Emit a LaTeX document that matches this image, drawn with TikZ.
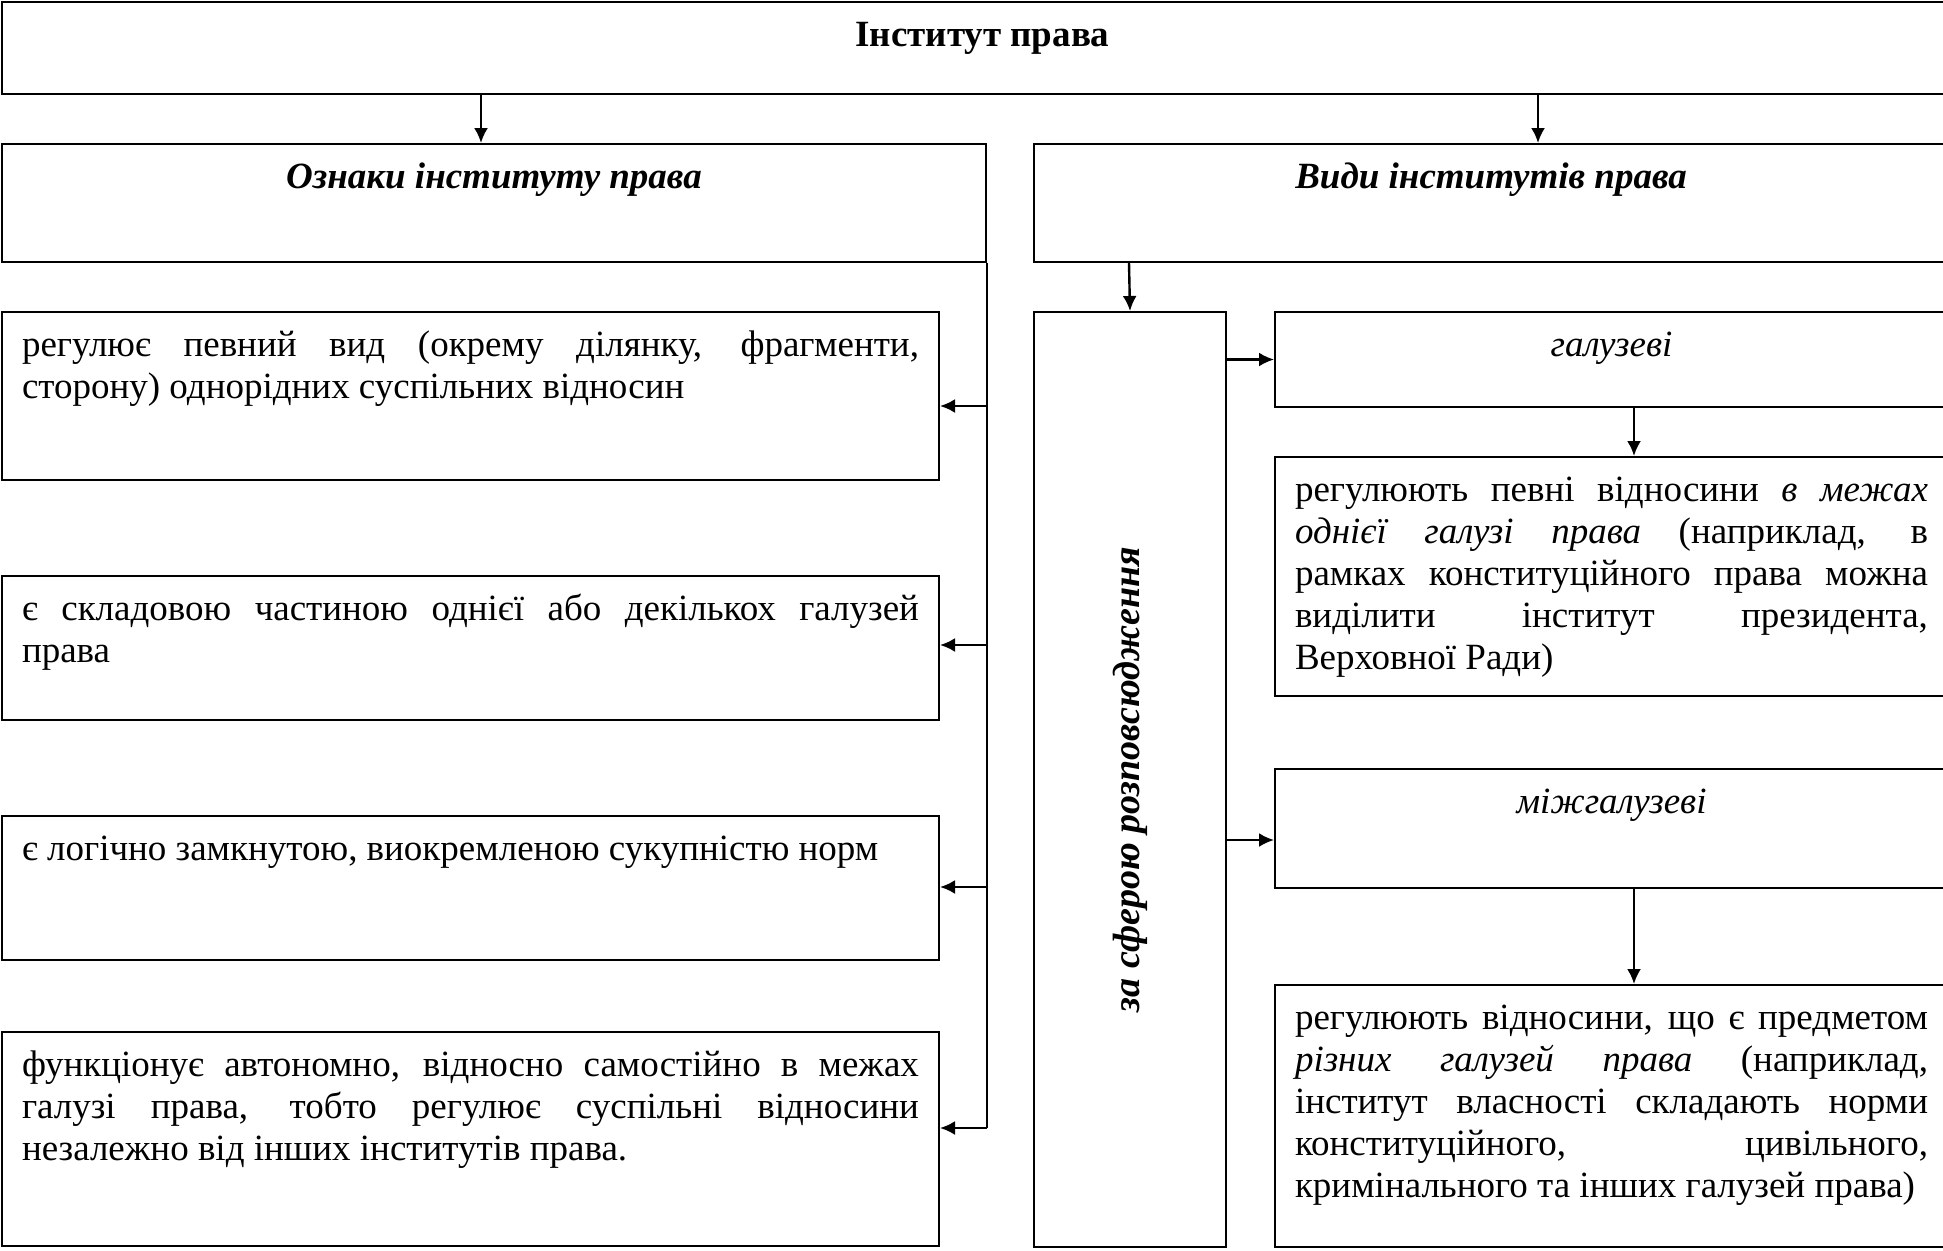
\documentclass[tikz,border=0pt]{standalone}
\usepackage{fontspec}
\setmainfont{Liberation Serif}
\usepackage{graphicx}
\usetikzlibrary{arrows.meta}

\newcommand{\celltext}[3]{\parbox[c][#1][t]{#2}{\rule{0pt}{44pt}#3}}
\newcommand{\celltitle}[3]{\parbox[c][#1][t]{#2}{\centering\rule{0pt}{44pt}#3\par}}

\tikzset{
	cell/.style={draw, line width=2pt, anchor=north west, inner xsep=20pt, inner ysep=0pt},
	link/.style={line width=2.4pt, -{Latex[length=15pt, width=14pt]}}
}

\begin{document}
\begin{tikzpicture}[x=1pt, y=-1pt, font=\fontsize{37}{42}\selectfont]
	\useasboundingbox (0,0) rectangle (1943,1250);
	\clip (0,0) rectangle (1943,1250);

	\node[cell] (inst) at (1,1) {\celltitle{92pt}{1921pt}{\textbf{Інститут права}}};
	\node[cell] (ozn) at (1,143) {\celltitle{118pt}{944pt}{\textbf{\textit{Ознаки інституту права}}}};
	\node[cell] (vydy) at (1033,143) {\celltitle{118pt}{874pt}{\textbf{\textit{Види інститутів права}}}};

	% ознаки
	\node[cell] (b1) at (1,311) {\celltext{168pt}{897pt}{регулює певний вид (окрему ділянку, фрагменти,\linebreak сторону) однорідних суспільних відносин}};
	\node[cell] (b2) at (1,575) {\celltext{144pt}{897pt}{є складовою частиною однієї або декількох галузей\linebreak права}};
	\node[cell] (b3) at (1,815) {\celltext{144pt}{897pt}{є логічно замкнутою, виокремленою сукупністю норм}};
	\node[cell] (b4) at (1,1031) {\celltext{214pt}{897pt}{функціонує автономно, відносно самостійно в межах\linebreak галузі права, тобто регулює суспільні відносини\linebreak незалежно від інших інститутів права.}};

	% види
	\node[cell, inner sep=0pt, minimum width=192pt, minimum height=935pt] (sfera) at (1033,311)
		{\rotatebox{90}{\fontsize{38}{42}\selectfont\bfseries\itshape за сферою розповсюдження}};
	\node[cell] (galuz) at (1274,311) {\celltitle{95pt}{633pt}{\textit{галузеві}}};
	\node[cell] (gdesc) at (1274,456) {\celltext{239pt}{633pt}{регулюють певні відносини \textit{в межах}\linebreak \textit{однієї галузі права} (наприклад, в\linebreak рамках конституційного права можна\linebreak виділити інститут президента,\linebreak Верховної Ради)}};
	\node[cell] (mizh) at (1274,768) {\celltitle{119pt}{633pt}{\textit{міжгалузеві}}};
	\node[cell] (mdesc) at (1274,984) {\celltext{262pt}{633pt}{регулюють відносини, що є предметом\linebreak \textit{різних галузей права} (наприклад,\linebreak інститут власності складають норми\linebreak конституційного, цивільного,\linebreak кримінального та інших галузей права)}};

	\draw[link] ([xshift=480pt]inst.south west) -- ([xshift=480pt]ozn.north west);
	\draw[link] ([xshift=1537pt]inst.south west) -- ([xshift=505pt]vydy.north west);
	\draw[link] ([xshift=96pt]vydy.south west) -- (sfera.north);

	\draw[line width=2pt] (ozn.south east) -- ([xshift=47pt, yshift=-97pt]b4.north east);
	\foreach \b/\d in {b1/95, b2/70, b3/72, b4/97}
		\draw[link] ([xshift=47pt, yshift=-\d pt]\b.north east) -- ([yshift=-\d pt]\b.north east);

	\draw[link] (sfera.east |- galuz.west) -- (galuz.west);
	\draw[link] ([yshift=-72pt]sfera.east |- mizh.north west) -- ([yshift=-72pt]mizh.north west);
	\draw[link] ([xshift=360pt]galuz.south west) -- ([xshift=360pt]gdesc.north west);
	\draw[link] ([xshift=360pt]mizh.south west) -- ([xshift=360pt]mdesc.north west);
\end{tikzpicture}
\end{document}
